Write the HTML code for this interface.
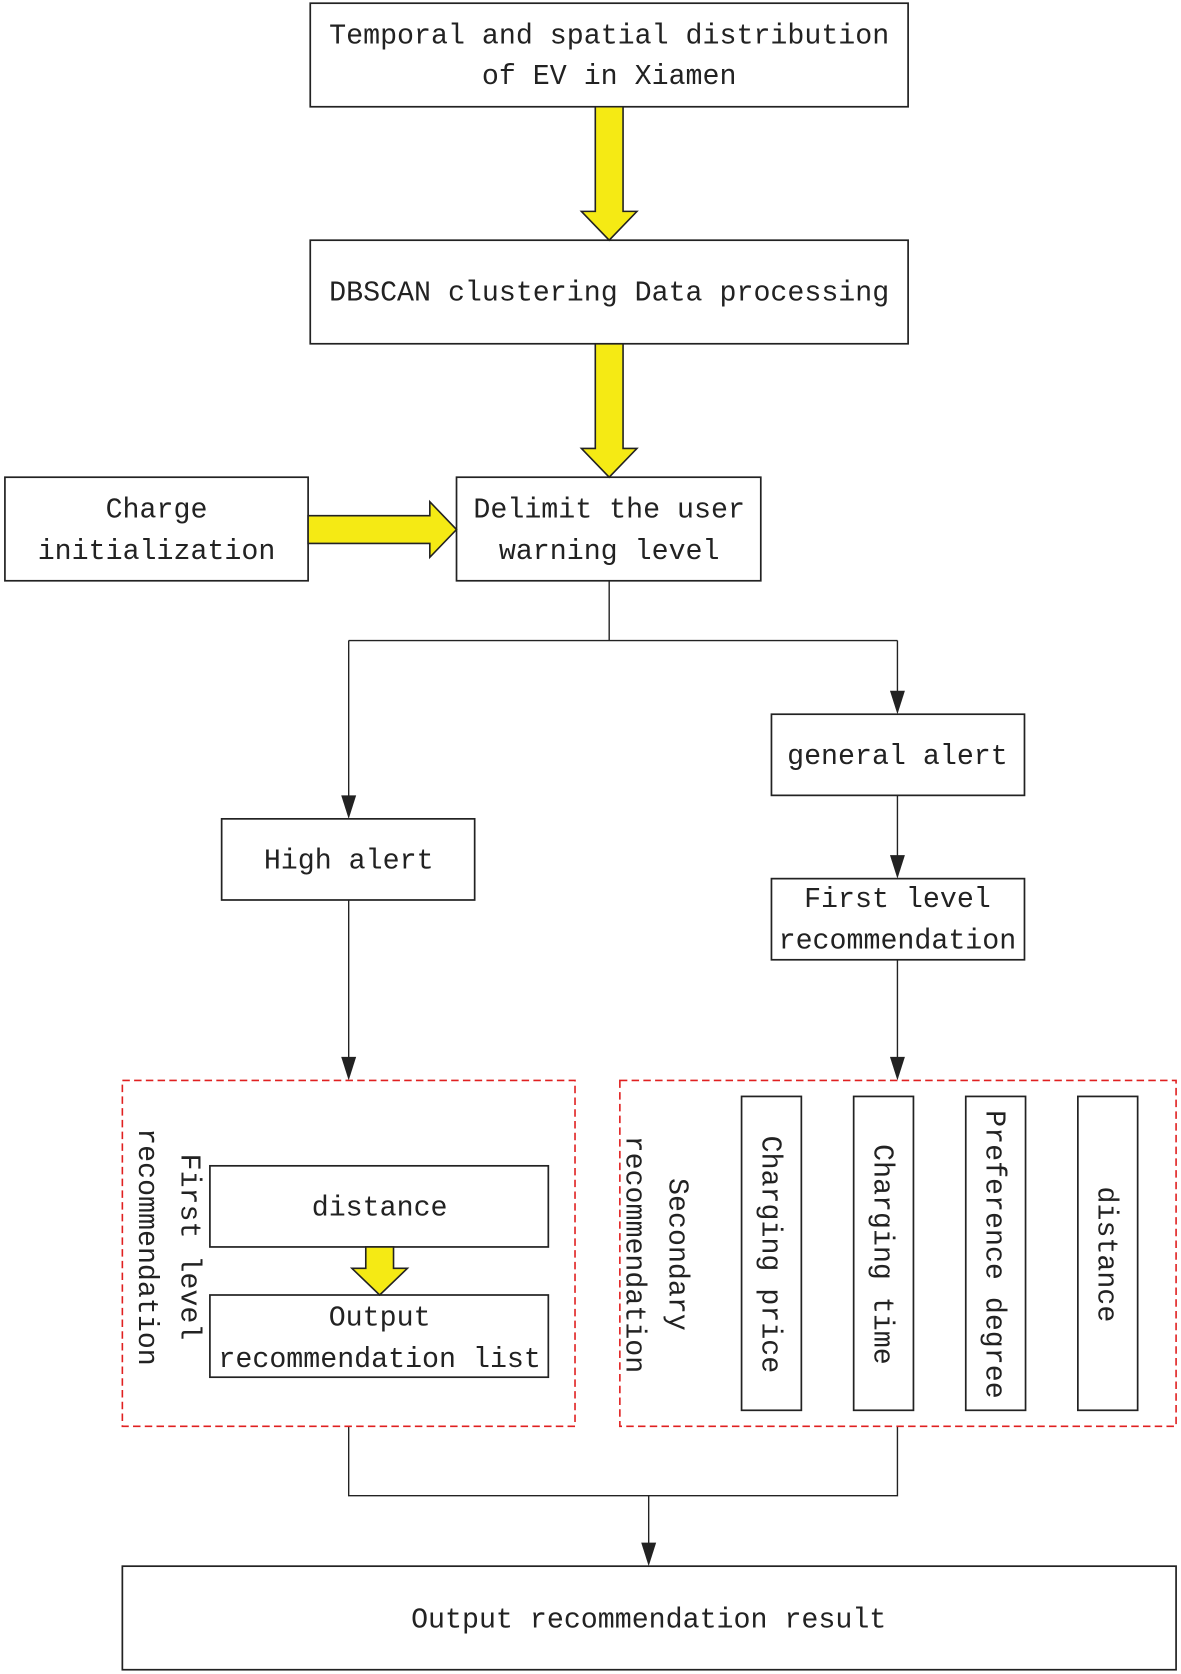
<!DOCTYPE html>
<html><head><meta charset="utf-8"><style>html,body{margin:0;padding:0;background:#fff}svg{display:block}text{font-family:"Liberation Mono",monospace;font-size:26.5px;fill:#222}</style></head><body>
<svg width="1181" height="1674" viewBox="0 0 1105 1568" xmlns="http://www.w3.org/2000/svg">
<g fill="none" stroke="#222" stroke-width="1.6">
<rect x="290" y="3" width="560" height="97"/>
<rect x="290" y="225" width="560" height="97"/>
<rect x="4" y="447" width="284" height="97"/>
<rect x="427" y="447" width="285" height="97"/>
<rect x="722" y="669" width="237" height="76"/>
<rect x="722" y="823" width="237" height="76"/>
<rect x="207" y="767" width="237" height="76"/>
<rect x="196" y="1092" width="317" height="76"/>
<rect x="196" y="1213" width="317" height="77"/>
<rect x="694" y="1027" width="56" height="294"/>
<rect x="799" y="1027" width="56" height="294"/>
<rect x="904" y="1027" width="56" height="294"/>
<rect x="1009" y="1027" width="56" height="294"/>
<rect x="114" y="1467" width="987" height="97"/>
<path d="M570 544V600M326 600H840M326 600V747M840 600V649M840 745V803M840 899V992M326 843V992M326 1336V1401H840V1336M607 1401V1447" stroke-width="1.3"/>
</g>
<g fill="#222">
<path d="M319 745h14l-7 22z"/><path d="M833 647h14l-7 22z"/><path d="M833 801h14l-7 22z"/><path d="M833 990h14l-7 22z"/><path d="M319 990h14l-7 22z"/><path d="M600 1445h14l-7 22z"/>
</g>
<g fill="none" stroke="#e02020" stroke-width="1.5" stroke-dasharray="7 4">
<rect x="114" y="1012" width="424" height="324"/>
<rect x="580" y="1012" width="521" height="324"/>
</g>
<g fill="#f5ea14" stroke="#222" stroke-width="1.5">
<path d="M557 100H583V198H596L570 225L544 198H557Z"/>
<path d="M557 322H583V420H596L570 447L544 420H557Z"/>
<path d="M288 483H402V470L427 496L402 522V509H288Z"/>
<path d="M342 1168H368V1188H381L355 1213L329 1188H342Z"/>
</g>
<g text-anchor="middle" dominant-baseline="central">
<text x="570" y="34">Temporal and spatial distribution</text>
<text x="570" y="72">of EV in Xiamen</text>
<text x="570" y="275">DBSCAN clustering Data processing</text>
<text x="146" y="478">Charge</text>
<text x="146" y="517">initialization</text>
<text x="570" y="478">Delimit the user</text>
<text x="570" y="517">warning level</text>
<text x="840" y="709">general alert</text>
<text x="840" y="843">First level</text>
<text x="840" y="882">recommendation</text>
<text x="326" y="807">High alert</text>
<text x="355" y="1132">distance</text>
<text x="355" y="1235">Output</text>
<text x="355" y="1274">recommendation list</text>
<text x="607" y="1518">Output recommendation result</text>
<g transform="translate(176 1168) rotate(90)"><text x="0" y="0">First level</text></g>
<g transform="translate(136 1168) rotate(90)"><text x="0" y="0">recommendation</text></g>
<g transform="translate(633 1175) rotate(90)"><text x="0" y="0">Secondary</text></g>
<g transform="translate(593 1175) rotate(90)"><text x="0" y="0">recommendation</text></g>
<g transform="translate(720 1175) rotate(90)"><text x="0" y="0">Charging price</text></g>
<g transform="translate(825 1175) rotate(90)"><text x="0" y="0">Charging time</text></g>
<g transform="translate(930 1175) rotate(90)"><text x="0" y="0">Preference degree</text></g>
<g transform="translate(1035 1175) rotate(90)"><text x="0" y="0">distance</text></g>
</g>
</svg>
</body></html>
